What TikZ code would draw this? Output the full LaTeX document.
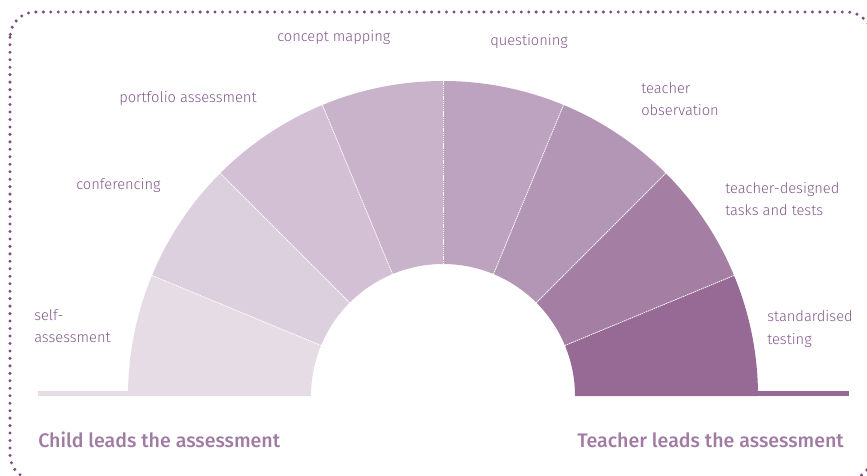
\documentclass[tikz,border=0pt]{standalone}
\usepackage{fontspec}
\setmainfont{Fira Sans}[UprightFont={* Light},BoldFont={* Medium}]
\definecolor{bord}{HTML}{7B4A80}
\definecolor{lab}{HTML}{82588A}
\definecolor{big}{HTML}{A07CA3}
\definecolor{s0}{HTML}{E6DCE6}
\definecolor{s1}{HTML}{DCD0DE}
\definecolor{s2}{HTML}{D3C0D4}
\definecolor{s3}{HTML}{C9B3CA}
\definecolor{s4}{HTML}{BDA3BF}
\definecolor{s5}{HTML}{B396B5}
\definecolor{s6}{HTML}{A47FA3}
\definecolor{s7}{HTML}{976A96}
\tikzset{
  lbl/.style={anchor=west,align=left,text=lab,font=\fontsize{11}{17}\selectfont,inner sep=0pt},
  biglbl/.style={anchor=west,text=big,font=\bfseries\fontsize{14.7}{16}\selectfont,inner sep=0pt},
  sep/.style={draw=white,line width=0.6pt,dash pattern=on 1pt off 0.6pt},
  frame/.style={draw=bord,line width=2.5pt,line cap=round,dash pattern=on 0pt off 5.6pt,rounded corners=19pt}
}
\begin{document}
\begin{tikzpicture}[x=0.75pt,y=0.75pt]
\useasboundingbox (0,0) rectangle (867,475);
\draw[frame] (10,463) rectangle (872,-5);
% base strips
\fill[s0] (38,79) rectangle (130,84);
\fill[s7] (756,79) rectangle (849,84);
\coordinate (C) at (443,79);
\foreach \i/\c in {0/s0,1/s1,2/s2,3/s3,4/s4,5/s5,6/s6,7/s7}{
  \pgfmathsetmacro{\aa}{180-22.5*\i}
  \pgfmathsetmacro{\ab}{180-22.5*(\i+1)}
  \fill[\c] ([shift={(\aa:315)}]C) arc[start angle=\aa,end angle=\ab,radius=315]
    -- ([shift={(\ab:132)}]C) arc[start angle=\ab,end angle=\aa,radius=132] -- cycle;
}
\foreach \i in {1,...,7}{
  \pgfmathsetmacro{\aa}{180-22.5*\i}
  \draw[sep] ([shift={(\aa:132)}]C) -- ([shift={(\aa:315)}]C);
}
% labels
\node[lbl] (l0) at (34,149) {self-\\assessment};
\node[lbl] (l1) at (76,290) {conferencing};
\node[lbl] (l2) at (119,377) {portfolio assessment};
\node[lbl] (l3) at (277,438) {concept mapping};
\node[lbl] (l4) at (490,434) {questioning};
\node[lbl] (l5) at (641,376) {teacher\\observation};
\node[lbl] (l6) at (725,276) {teacher-designed\\tasks and tests};
\node[lbl] (l7) at (767,146) {standardised\\testing};
\node[biglbl] (b1) at (38,35) {Child leads the assessment};
\node[biglbl] (b2) at (577,35) {Teacher leads the assessment};
\end{tikzpicture}
\end{document}
